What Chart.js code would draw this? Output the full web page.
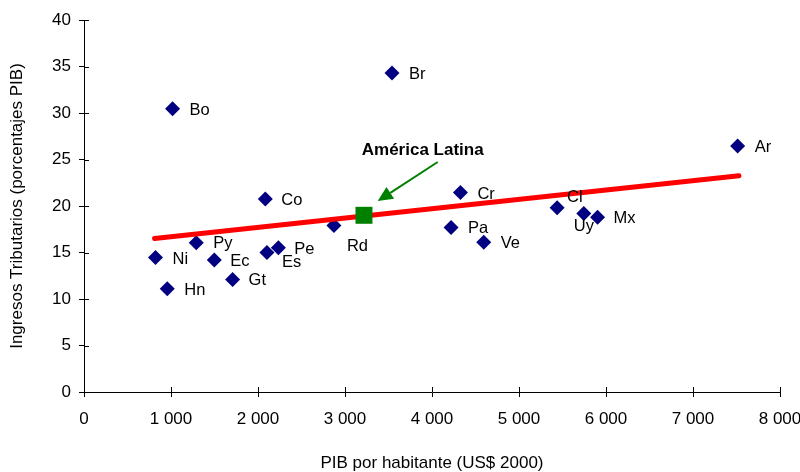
<!DOCTYPE html>
<html>
<head>
<meta charset="utf-8">
<script src="https://cdn.jsdelivr.net/npm/chart.js@4.4.1/dist/chart.umd.min.js"></script>
<style>
  html, body { margin: 0; padding: 0; background: #fff; }
  #wrap { width: 800px; height: 472px; }
</style>
</head>
<body>
<div id="wrap"><canvas id="c" width="800" height="472"></canvas></div>
<script>
// ---- data ----
const countries = ["Bo","Br","Co","Py","Ni","Ec","Hn","Gt","Es","Pe","Rd","Cr","Pa","Ve","Cl","Uy","Mx","Ar"];
const gdpPerCapita = [1018, 3540, 2084, 1290, 822, 1498, 957, 1708, 2103, 2234, 2873, 4327, 4219, 4595, 5438, 5745, 5903, 7513];
const taxRevenue   = [30.45, 34.3, 20.75, 16.05, 14.45, 14.2, 11.1, 12.1, 15.0, 15.5, 17.9, 21.45, 17.7, 16.1, 19.8, 19.2, 18.8, 26.45];
const latamName = "América Latina";
const latamPoint = [3218, 19.0];
const trendX = [811, 7528];
const trendY = [16.5, 23.25];
const xTicks = [0, 1000, 2000, 3000, 4000, 5000, 6000, 7000, 8000];
const yTicks = [0, 5, 10, 15, 20, 25, 30, 35, 40];
const xTitle = "PIB por habitante (US$ 2000)";
const yTitle = "Ingresos Tributarios (porcentajes PIB)";

// label placement (pixel offsets from point; styling only)
const labelOffsets = {
  Bo:[17,0], Br:[17,0], Co:[16,0], Py:[17,-1], Ni:[17,0], Ec:[16,0], Hn:[17,0], Gt:[16,0],
  Es:[15,8], Pe:[16,0], Rd:[13,19], Cr:[17,0], Pa:[17,0], Ve:[17,0], Cl:[10,-12], Uy:[-10,12],
  Mx:[16,0], Ar:[17,0]
};
// annotation anchors in data units
const annotTextPos = [3893, 26.0];
const annotArrowFrom = [4066, 24.73];
const annotArrowTo = [3376, 20.54];

Chart.defaults.font.family = "'Liberation Sans', Arial, sans-serif";
Chart.defaults.color = '#000';

const fmt = v => String(v).replace(/\B(?=(\d{3})+(?!\d))/g, ' ');

const labelPlugin = {
  id: 'labelsAndArrow',
  afterDatasetsDraw(chart) {
    const ctx = chart.ctx;
    const xs = chart.scales.x, ys = chart.scales.y;
    ctx.save();
    // inner half of the crossing tick marks
    ctx.strokeStyle = '#000';
    ctx.lineWidth = 1;
    ctx.beginPath();
    xTicks.forEach(v => {
      const p = Math.round(xs.getPixelForValue(v)) + 0.5;
      ctx.moveTo(p, ys.bottom); ctx.lineTo(p, ys.bottom - 5);
    });
    yTicks.forEach(v => {
      const p = Math.round(ys.getPixelForValue(v)) + 0.5;
      ctx.moveTo(xs.left, p); ctx.lineTo(xs.left + 5, p);
    });
    ctx.stroke();

    ctx.font = "16.5px 'Liberation Sans', Arial, sans-serif";
    ctx.fillStyle = '#000';
    ctx.textAlign = 'left';
    ctx.textBaseline = 'alphabetic';
    countries.forEach((c, i) => {
      const px = xs.getPixelForValue(gdpPerCapita[i]);
      const py = ys.getPixelForValue(taxRevenue[i]);
      const o = labelOffsets[c] || [16, 0];
      ctx.fillText(c, px + o[0], py + o[1] + 6);
    });
    // annotation text
    ctx.font = "bold 17px 'Liberation Sans', Arial, sans-serif";
    ctx.textAlign = 'center';
    ctx.textBaseline = 'middle';
    ctx.fillText(latamName, xs.getPixelForValue(annotTextPos[0]), ys.getPixelForValue(annotTextPos[1]));
    // arrow
    const x1 = xs.getPixelForValue(annotArrowFrom[0]), y1 = ys.getPixelForValue(annotArrowFrom[1]);
    const x2 = xs.getPixelForValue(annotArrowTo[0]), y2 = ys.getPixelForValue(annotArrowTo[1]);
    const ang = Math.atan2(y2 - y1, x2 - x1);
    const headLen = 15, headW = 7;
    const bx = x2 - headLen * Math.cos(ang), by = y2 - headLen * Math.sin(ang);
    ctx.strokeStyle = '#008000';
    ctx.fillStyle = '#008000';
    ctx.lineWidth = 2;
    ctx.beginPath(); ctx.moveTo(x1, y1); ctx.lineTo(bx, by); ctx.stroke();
    ctx.beginPath();
    ctx.moveTo(x2, y2);
    ctx.lineTo(bx + headW * Math.sin(ang), by - headW * Math.cos(ang));
    ctx.lineTo(bx - headW * Math.sin(ang), by + headW * Math.cos(ang));
    ctx.closePath(); ctx.fill();
    ctx.restore();
  }
};

new Chart(document.getElementById('c'), {
  type: 'scatter',
  data: {
    datasets: [
      {
        label: latamName,
        data: [{x: latamPoint[0], y: latamPoint[1]}],
        pointStyle: 'rect',
        pointRadius: 12,
        backgroundColor: '#008000',
        borderColor: '#008000',
        borderWidth: 0,
        order: 0
      },
      {
        label: 'Tendencia',
        type: 'line',
        data: trendX.map((x, i) => ({x, y: trendY[i]})),
        borderColor: '#ff0000',
        borderWidth: 5,
        borderCapStyle: 'round',
        pointRadius: 0,
        fill: false,
        order: 1
      },
      {
        label: 'Países',
        data: countries.map((c, i) => ({x: gdpPerCapita[i], y: taxRevenue[i]})),
        pointStyle: 'rectRot',
        pointRadius: 7.5,
        backgroundColor: '#000080',
        borderColor: '#000080',
        borderWidth: 0,
        order: 2
      }
    ]
  },
  options: {
    responsive: false,
    animation: false,
    layout: { padding: { top: 20, right: 20, left: 0, bottom: 0 } },
    plugins: { legend: { display: false }, tooltip: { enabled: false } },
    scales: {
      x: {
        type: 'linear',
        min: xTicks[0], max: xTicks[xTicks.length - 1],
        afterBuildTicks: s => { s.ticks = xTicks.map(v => ({value: v})); },
        afterFit: s => { s.height = 80; s.paddingLeft = 0; s.paddingRight = 0; },
        ticks: { callback: v => fmt(v), font: { size: 17 }, padding: 12, maxRotation: 0, autoSkip: false },
        grid: { drawOnChartArea: false, drawTicks: true, tickLength: 5, color: '#000' },
        border: { color: '#000', width: 1 },
        title: { display: true, text: xTitle, font: { size: 17, lineHeight: 1 }, padding: { top: 0, bottom: 0 } }
      },
      y: {
        type: 'linear',
        min: yTicks[0], max: yTicks[yTicks.length - 1],
        afterBuildTicks: s => { s.ticks = yTicks.map(v => ({value: v})); },
        afterFit: s => { s.width = 84; s.paddingTop = 0; s.paddingBottom = 0; },
        ticks: { font: { size: 17 }, padding: 8 },
        grid: { drawOnChartArea: false, drawTicks: true, tickLength: 5, color: '#000' },
        border: { color: '#000', width: 1 },
        title: { display: true, text: yTitle, font: { size: 17, lineHeight: 1 }, padding: { top: 8.5, bottom: 0 } }
      }
    }
  },
  plugins: [labelPlugin]
});
</script>
</body>
</html>
